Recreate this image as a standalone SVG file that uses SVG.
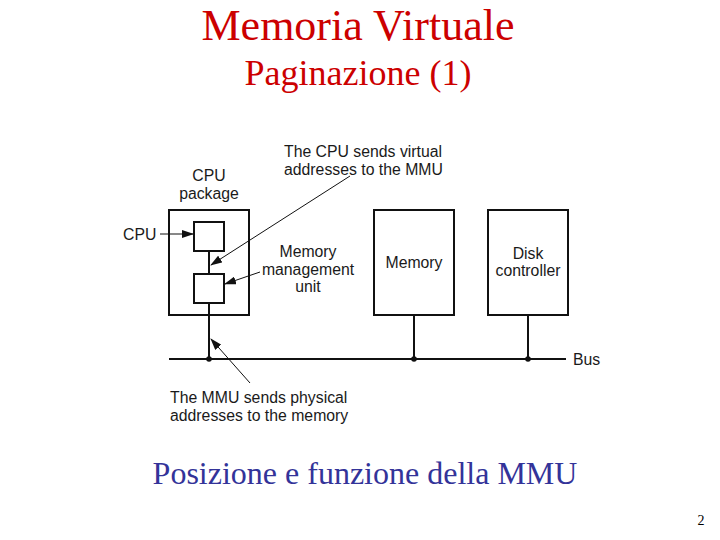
<svg xmlns="http://www.w3.org/2000/svg" width="720" height="540" viewBox="0 0 720 540">
<style>
.t{font-family:"Liberation Serif","Times New Roman",serif;}
.s{font-family:"Liberation Sans",Arial,sans-serif;font-size:15.8px;fill:#1a1a1a;}
.box{fill:#fff;stroke:#111;stroke-width:2;}
.ln{stroke:#111;stroke-width:2;fill:none;}
.ar{stroke:#111;stroke-width:1;fill:none;marker-end:url(#ah);}
</style>
<defs>
<marker id="ah" markerWidth="12" markerHeight="8" refX="11" refY="4" orient="auto" markerUnits="userSpaceOnUse">
<path d="M0,0 L12,4 L0,8 z" fill="#111"/>
</marker>
</defs>
<rect width="720" height="540" fill="#fff"/>
<text class="t" x="358" y="40" font-size="44" fill="#cc0000" text-anchor="middle">Memoria Virtuale</text>
<text class="t" x="358" y="85" font-size="36" fill="#cc0000" text-anchor="middle">Paginazione (1)</text>
<text class="t" x="365" y="484" font-size="32" fill="#333399" text-anchor="middle">Posizione e funzione della MMU</text>
<text class="t" x="701" y="525" font-size="14" fill="#000" text-anchor="middle">2</text>

<g id="cpu-package">
<rect class="box" x="169" y="210" width="80" height="105"/>
<text class="s" x="209" y="181" text-anchor="middle">CPU</text>
<text class="s" x="209" y="199" text-anchor="middle">package</text>
</g>
<g id="cpu">
<rect class="box" x="194" y="222" width="30" height="29"/>
<text class="s" x="123" y="240">CPU</text>
</g>
<g id="mmu">
<rect class="box" x="194" y="274" width="30" height="29"/>
<text class="s" x="308" y="257" text-anchor="middle">Memory</text>
<text class="s" x="308" y="275" text-anchor="middle">management</text>
<text class="s" x="308" y="292" text-anchor="middle">unit</text>
</g>
<g id="memory">
<rect class="box" x="374" y="210" width="80" height="105"/>
<text class="s" x="414" y="268" text-anchor="middle">Memory</text>
</g>
<g id="disk">
<rect class="box" x="488" y="210" width="80" height="105"/>
<text class="s" x="528" y="259" text-anchor="middle">Disk</text>
<text class="s" x="528" y="276" text-anchor="middle">controller</text>
</g>
<g id="bus">
<text class="s" x="573" y="365">Bus</text>
</g>
<g id="note-virtual">
<text class="s" x="284" y="157">The CPU sends virtual</text>
<text class="s" x="284" y="175">addresses to the MMU</text>
</g>
<g id="note-physical">
<text class="s" x="170" y="403">The MMU sends physical</text>
<text class="s" x="170" y="421">addresses to the memory</text>
</g>

<g id="connectors">
<line class="ln" x1="169" y1="359" x2="566" y2="359"/>
<line class="ln" x1="209" y1="251" x2="209" y2="274"/>
<line class="ln" x1="209" y1="303" x2="209" y2="359"/>
<line class="ln" x1="414" y1="315" x2="414" y2="359"/>
<line class="ln" x1="528" y1="315" x2="528" y2="359"/>
<circle cx="209" cy="359" r="2.8" fill="#111"/>
<circle cx="414" cy="359" r="2.8" fill="#111"/>
<circle cx="528" cy="359" r="2.8" fill="#111"/>
<line class="ar" x1="160" y1="234" x2="193" y2="234"/>
<line class="ar" x1="350" y1="176" x2="211" y2="265"/>
<line class="ar" x1="260" y1="272" x2="225" y2="284"/>
<line class="ar" x1="250" y1="383" x2="211" y2="339"/>
</g>
</svg>
